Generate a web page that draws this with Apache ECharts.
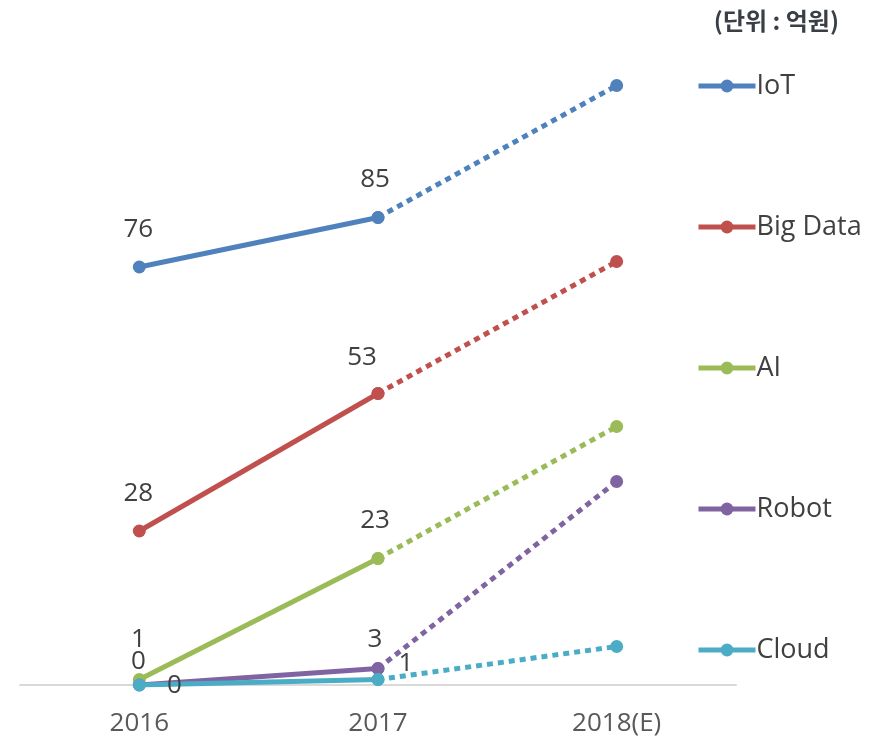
<!DOCTYPE html>
<html>
<head>
<meta charset="utf-8">
<script src="https://cdn.jsdelivr.net/npm/echarts@6/dist/echarts.min.js"></script>
<style>
html, body { margin: 0; padding: 0; background: #fff; }
#main { width: 880px; height: 744px; }
</style>
</head>
<body>
<div id="main"></div>
<script>
// 카테고리 / 값
var years = ['2016', '2017', '2018(E)'];
var names = ['IoT', 'Big Data', 'AI', 'Robot', 'Cloud'];
var colors = ['#4f81bd', '#c0504d', '#9bbb59', '#8064a2', '#4bacc6'];

var iotValues = [76, 85, 109];
var bigDataValues = [28, 53, 77];
var aiValues = [1, 23, 47];
var robotValues = [0, 3, 37];
var cloudValues = [0, 1, 7];

var allValues = [iotValues, bigDataValues, aiValues, robotValues, cloudValues];

// 라벨 위치 조정 (series index -> [2016, 2017])
var labelOffsets = [
	[[-1, 0], [-3, 0]],
	[[-1, 0], [-16, 2]],
	[[-1, -2], [-3, 0]],
	[[-1, 14], [-3, 9]],
	[[35, 1], [28, -16]]
];
var labelPos = [
	['top', 'top'],
	['top', 'top'],
	['top', 'top'],
	['top', 'top'],
	['inside', 'inside']
];

var fontFamily = '"Open Sans", "Noto Sans", sans-serif';

var series = [];
for (var i = 0; i < names.length; i++) {
	var vals = allValues[i];
	var solidData = [];
	for (var j = 0; j < 2; j++) {
		solidData.push({
			value : vals[j],
			label : {
				show : true,
				position : labelPos[i][j],
				offset : labelOffsets[i][j]
			}
		});
	}
	solidData.push('-');
	series.push({
		name : names[i],
		type : 'line',
		data : solidData,
		symbol : 'circle',
		symbolSize : 13,
		color : colors[i],
		lineStyle : { width : 5, color : colors[i] },
		itemStyle : { color : colors[i] },
		label : {
			distance : 18,
			fontSize : 26,
			color : '#404040',
			fontFamily : fontFamily
		},
		z : 3 + i,
		animation : false
	});
	// 2018(E) 예상치 - 점선
	series.push({
		name : names[i] + ' (E)',
		type : 'line',
		data : ['-', vals[1], vals[2]],
		symbol : 'circle',
		symbolSize : 13,
		color : colors[i],
		lineStyle : { width : 5, color : colors[i], type : [6, 5] },
		itemStyle : { color : colors[i] },
		z : 2 + i,
		animation : false
	});
}

var chart = echarts.init(document.getElementById('main'));
chart.setOption({
	backgroundColor : '#fff',
	title : {
		text : '(단위 : 억원)',
		right : 36,
		top : 4,
		textStyle : {
			fontSize : 24,
			fontWeight : 'bold',
			color : '#3a3f45',
			fontFamily : '"Noto Sans CJK KR", sans-serif'
		}
	},
	legend : {
		data : names,
		orient : 'vertical',
		left : 691,
		top : 67,
		padding : 5,
		itemWidth : 57,
		itemHeight : 16,
		itemGap : 113,
		lineStyle : { width : 5 },
		textStyle : {
			fontSize : 27,
			color : '#404040',
			lineHeight : 28,
			padding : [0, 0, 0, -4],
			fontFamily : fontFamily
		}
	},
	grid : {
		left : 20,
		right : 144,
		top : 80,
		bottom : 59
	},
	xAxis : {
		type : 'category',
		data : years,
		boundaryGap : true,
		axisLine : { lineStyle : { color : '#d9d9d9', width : 2 } },
		axisTick : { show : false },
		axisLabel : {
			fontSize : 26,
			color : '#595959',
			margin : 26,
			fontFamily : fontFamily
		}
	},
	yAxis : {
		type : 'value',
		min : 0,
		max : 110,
		show : false,
		splitLine : { show : false }
	},
	series : series
});
</script>
</body>
</html>
